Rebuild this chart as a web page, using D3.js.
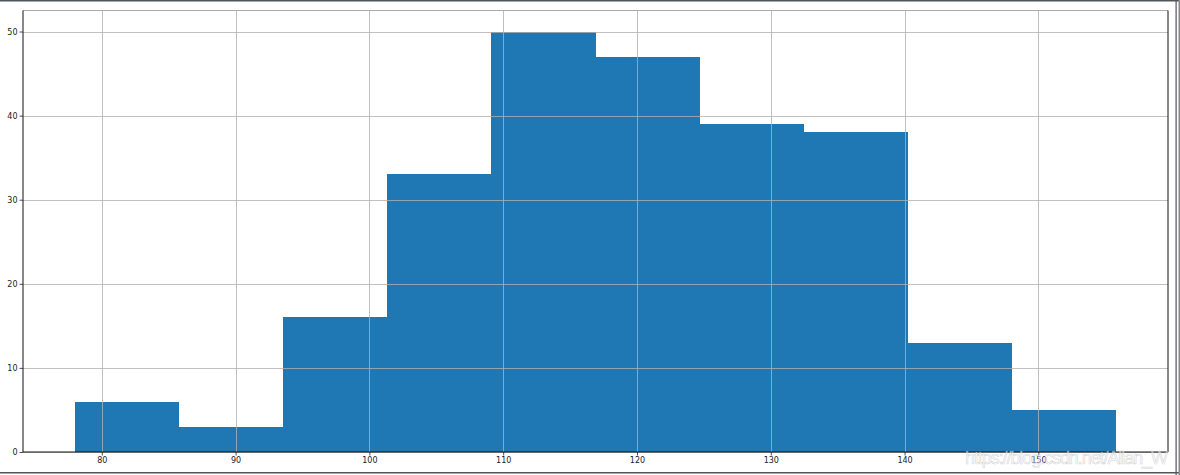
<!DOCTYPE html>
<html><head><meta charset="utf-8">
<script src="https://cdn.jsdelivr.net/npm/d3@7"></script>
<style>body{margin:0;background:#fff}svg{display:block}</style>
</head><body>
<script>
const binEdges = [78.0, 85.78, 93.56, 101.34, 109.12, 116.9, 124.68, 132.46, 140.24, 148.02, 155.8];
const counts = [6, 3, 16, 33, 50, 47, 39, 38, 13, 5];
const xTicks = [80, 90, 100, 110, 120, 130, 140, 150];
const yTicks = [0, 10, 20, 30, 40, 50];

const W = 1180, H = 475;
const m = {left: 23, right: 1168, top: 10.5, bottom: 452};
const svg = d3.select("body").append("svg").attr("width", W).attr("height", H);

const xmin = binEdges[0], xmax = binEdges[binEdges.length - 1];
const pad = (xmax - xmin) * 0.05;
const x = d3.scaleLinear().domain([xmin - pad, xmax + pad]).range([m.left, m.right]);
const y = d3.scaleLinear().domain([0, d3.max(counts) * 1.05]).range([m.bottom, m.top]);

const bins = counts.map((c, i) => ({x0: binEdges[i], x1: binEdges[i + 1], c}));
svg.append("g").attr("shape-rendering", "crispEdges").selectAll("rect").data(bins).join("rect")
  .attr("x", d => Math.round(x(d.x0))).attr("width", d => Math.round(x(d.x1)) - Math.round(x(d.x0)))
  .attr("y", d => Math.round(y(d.c))).attr("height", d => Math.round(y(0)) - Math.round(y(d.c)))
  .attr("fill", "#1f77b4");

// grid (drawn above bars)
const grid = svg.append("g").attr("stroke", "#b0b0b0").attr("stroke-width", 0.8);
grid.selectAll("line.v").data(xTicks).join("line").attr("class", "v")
  .attr("x1", d => Math.round(x(d)) + 0.5).attr("x2", d => Math.round(x(d)) + 0.5)
  .attr("y1", m.top).attr("y2", m.bottom);
grid.selectAll("line.h").data(yTicks).join("line").attr("class", "h")
  .attr("y1", d => Math.round(y(d)) + 0.5).attr("y2", d => Math.round(y(d)) + 0.5)
  .attr("x1", m.left).attr("x2", m.right);

// axes
const font = "DejaVu Sans";
const xa = svg.append("g").attr("transform", `translate(0,${m.bottom})`)
  .call(d3.axisBottom(x).tickValues(xTicks).tickSize(3.5).tickPadding(2).tickFormat(d3.format("d")));
const ya = svg.append("g").attr("transform", `translate(${m.left},0)`)
  .call(d3.axisLeft(y).tickValues(yTicks).tickSize(3.5).tickPadding(2).tickFormat(d3.format("d")));
[xa, ya].forEach(a => {
  a.select(".domain").remove();
  a.selectAll("text").attr("font-family", font).attr("font-size", 8).attr("fill", "#222");
  a.selectAll("line").attr("stroke", "#222").attr("stroke-width", 0.8);
});

// spines
svg.append("line").attr("x1", m.left).attr("x2", m.right).attr("y1", m.top).attr("y2", m.top).attr("stroke", "#aaa").attr("stroke-width", 1);
svg.append("line").attr("x1", m.left).attr("x2", m.right).attr("y1", m.bottom).attr("y2", m.bottom).attr("stroke", "#111").attr("stroke-width", 1);
svg.append("line").attr("x1", m.left).attr("x2", m.left).attr("y1", m.top).attr("y2", m.bottom).attr("stroke", "#111").attr("stroke-width", 1);
svg.append("line").attr("x1", m.right).attr("x2", m.right).attr("y1", m.top).attr("y2", m.bottom).attr("stroke", "#111").attr("stroke-width", 1);

// watermark
svg.append("text").attr("x", 965).attr("y", 464).attr("textLength", 203)
  .attr("font-family", "Liberation Sans").attr("font-size", 18)
  .attr("fill", "rgba(255,255,255,0.55)").attr("stroke", "rgba(170,170,170,0.45)").attr("stroke-width", 0.7)
  .text("https://blog.csdn.net/Allan_W");

// outer frame
svg.append("rect").attr("x", 0).attr("y", 0).attr("width", W).attr("height", 1.5).attr("fill", "#50555a");
svg.append("rect").attr("x", 0).attr("y", 472).attr("width", W).attr("height", 1.5).attr("fill", "#50555a");
svg.append("rect").attr("x", 1175.5).attr("y", 0).attr("width", 1.2).attr("height", H).attr("fill", "#50555a");
svg.append("rect").attr("x", 1178.5).attr("y", 0).attr("width", 1.5).attr("height", H).attr("fill", "#888");
</script>
</body></html>
